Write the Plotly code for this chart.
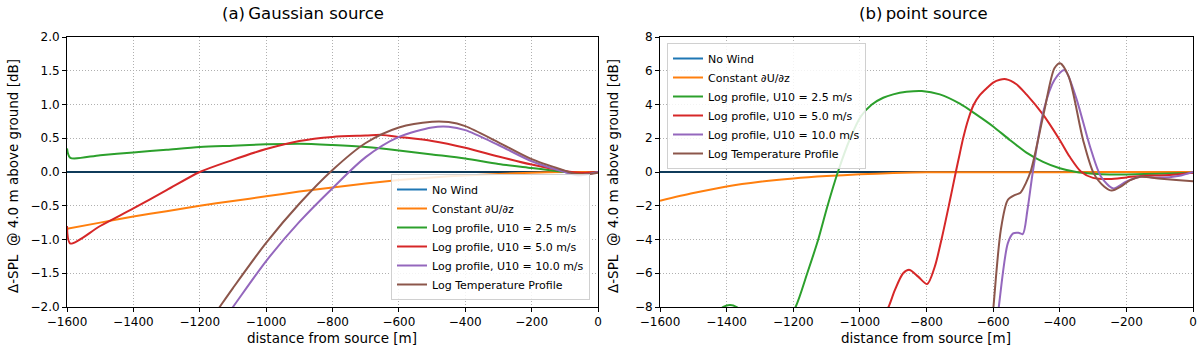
import plotly.graph_objects as go

# ---------------- (a) Gaussian source ----------------
ga_nowind_x = [-1600, 0]
ga_nowind_y = [0.0, 0.0]

ga_const_x = [-1600, -1500, -1400, -1300, -1200, -1100, -1000, -900, -800, -700, -600, -500, -400, -300, -200, -100, 0]
ga_const_y = [-0.84, -0.75, -0.66, -0.58, -0.50, -0.43, -0.36, -0.29, -0.23, -0.17, -0.12, -0.08, -0.05, -0.03, -0.01, 0.0, 0.0]

ga_u25_x = [-1600, -1590, -1500, -1400, -1300, -1200, -1100, -1000, -900, -800, -700, -600, -500, -400, -300, -200, -150, -100, -70, -40, 0]
ga_u25_y = [0.35, 0.21, 0.25, 0.29, 0.33, 0.37, 0.39, 0.41, 0.42, 0.40, 0.37, 0.32, 0.26, 0.20, 0.12, 0.06, 0.03, 0.0, -0.02, -0.02, 0.0]

ga_u50_x = [-1600, -1590, -1500, -1400, -1300, -1200, -1100, -1000, -900, -800, -700, -650, -600, -500, -400, -300, -200, -100, -50, 0]
ga_u50_y = [-0.80, -1.06, -0.80, -0.54, -0.27, 0.0, 0.18, 0.34, 0.46, 0.52, 0.54, 0.55, 0.52, 0.46, 0.36, 0.23, 0.11, 0.015, -0.01, 0.0]

ga_u100_x = [-1130, -1100, -1000, -900, -800, -700, -600, -500, -450, -400, -300, -200, -100, -60, 0]
ga_u100_y = [-2.2, -2.0, -1.32, -0.74, -0.24, 0.22, 0.52, 0.66, 0.67, 0.62, 0.40, 0.16, 0.0, -0.05, 0.0]

ga_temp_x = [-1160, -1140, -1100, -1000, -900, -800, -700, -600, -500, -450, -400, -300, -200, -100, -60, 0]
ga_temp_y = [-2.14, -2.0, -1.72, -1.05, -0.47, 0.03, 0.43, 0.66, 0.745, 0.74, 0.68, 0.44, 0.19, 0.02, -0.04, -0.01]

# ---------------- (b) point source ----------------
pt_nowind_x = [-1600, 0]
pt_nowind_y = [0.0, 0.0]

pt_const_x = [-1600, -1500, -1400, -1300, -1200, -1100, -1000, -900, -800, -600, -400, -200, 0]
pt_const_y = [-1.70, -1.25, -0.86, -0.58, -0.38, -0.24, -0.14, -0.06, -0.02, -0.01, -0.01, 0.0, 0.0]

pt_u25_x = [-1600, -1500, -1440, -1410, -1390, -1370, -1330, -1290, -1240, -1193, -1158, -1125, -1097, -1066, -1029, -997,
            -964, -930, -900, -860, -814, -760, -700, -650, -600, -550, -500, -450, -400, -350, -300, -250, -200, -100, 0]
pt_u25_y = [-14.0, -10.0, -8.5, -8.0, -7.88, -8.0, -8.8, -9.8, -9.5, -8.0, -6.0, -4.0, -2.0, 0.0, 2.0, 3.3,
            4.0, 4.4, 4.6, 4.75, 4.8, 4.6, 4.05, 3.4, 2.7, 1.9, 1.15, 0.6, 0.22, 0.0, -0.1, -0.15, -0.15, -0.1, -0.05]

pt_u50_x = [-1000, -950, -914, -895, -870, -851, -825, -798, -775, -755, -733, -712, -700, -690, -675, -658, -640, -620, -600,
            -580, -561, -530, -500, -450, -400, -370, -335, -300, -250, -200, -150, -100, -50, 0]
pt_u50_y = [-11.5, -9.4, -8.0, -7.0, -6.0, -5.8, -6.2, -6.64, -5.6, -4.0, -2.0, 0.0, 1.1, 2.0, 3.1, 4.0, 4.55, 4.95, 5.3,
            5.47, 5.5, 5.2, 4.6, 3.4, 1.9, 0.9, 0.0, -0.35, -0.42, -0.32, -0.22, -0.2, -0.15, -0.05]

pt_u100_x = [-610, -583, -556, -540, -524, -511, -497, -480, -448, -416, -386, -352, -309, -276, -239, -201, -158, -104, -40, 0]
pt_u100_y = [-13.0, -8.0, -4.23, -3.64, -3.6, -3.68, -2.25, 0.12, 3.68, 5.45, 6.05, 4.47, 1.5, -0.28, -0.97, -0.57, -0.28, -0.34, -0.22, 0.0]

pt_temp_x = [-620, -599, -577, -556, -534, -518, -502, -486, -448, -416, -399, -373, -330, -298, -266, -244, -217, -190, -158, -104, -50, 0]
pt_temp_y = [-13.0, -8.0, -3.44, -1.66, -1.36, -1.23, -0.67, 0.12, 3.48, 6.15, 6.45, 5.65, 1.9, -0.08, -0.87, -1.1, -0.87, -0.5, -0.28, -0.38, -0.47, -0.55]

names = ["No Wind", "Constant \u2202U/\u2202z", "Log profile, U10 = 2.5 m/s",
         "Log profile, U10 = 5.0 m/s", "Log profile, U10 = 10.0 m/s", "Log Temperature Profile"]
colors = ["#1f77b4", "#ff7f0e", "#2ca02c", "#d62728", "#9467bd", "#8c564b"]

x_ticks = [-1600, -1400, -1200, -1000, -800, -600, -400, -200, 0]
ya_ticks = [-2.0, -1.5, -1.0, -0.5, 0.0, 0.5, 1.0, 1.5, 2.0]
yb_ticks = [-8, -6, -4, -2, 0, 2, 4, 6, 8]

left_series = [(ga_nowind_x, ga_nowind_y), (ga_const_x, ga_const_y), (ga_u25_x, ga_u25_y),
               (ga_u50_x, ga_u50_y), (ga_u100_x, ga_u100_y), (ga_temp_x, ga_temp_y)]
right_series = [(pt_nowind_x, pt_nowind_y), (pt_const_x, pt_const_y), (pt_u25_x, pt_u25_y),
                (pt_u50_x, pt_u50_y), (pt_u100_x, pt_u100_y), (pt_temp_x, pt_temp_y)]

fig = go.Figure()

FONT = "DejaVu Sans"

def add_panel(series, xa, ya, legend):
    for i, ((xs, ys), nm, c) in enumerate(zip(series, names, colors)):
        fig.add_trace(go.Scatter(x=xs, y=ys, mode="lines", name=nm,
                                 line=dict(color=c, width=2, shape="spline", smoothing=0.8),
                                 xaxis=xa, yaxis=ya, legend=legend, hoverinfo="skip"))
        if i == 0:
            fig.add_trace(go.Scatter(x=[-1600, 0], y=[0, 0], mode="lines", showlegend=False,
                                     line=dict(color="black", width=1.2),
                                     xaxis=xa, yaxis=ya, hoverinfo="skip"))

add_panel(left_series, "x", "y", "legend")
add_panel(right_series, "x2", "y2", "legend2")

W, H = 1200, 352
def px_x(p):
    return p / W
def px_y(p):
    return 1 - p / H

axis_common = dict(showline=True, linecolor="black", linewidth=1, mirror=True,
                   ticks="outside", ticklen=4, tickcolor="black", tickwidth=1,
                   showgrid=True, gridcolor="#b0b0b0", griddash="1px,2px", gridwidth=1,
                   zeroline=False, automargin=False,
                   tickfont=dict(family=FONT, size=12, color="black"))

fig.update_layout(
    width=W, height=H,
    margin=dict(l=0, r=0, t=0, b=0, autoexpand=False),
    paper_bgcolor="white", plot_bgcolor="white",
    font=dict(family=FONT, color="black"),
    xaxis=dict(domain=[px_x(67), px_x(598)], range=[-1600, 0], tickvals=x_ticks, anchor="y", **axis_common),
    yaxis=dict(domain=[px_y(307), px_y(37)], range=[-2.0, 2.0], tickvals=ya_ticks, tickformat=".1f", anchor="x", **axis_common),
    xaxis2=dict(domain=[px_x(660), px_x(1193)], range=[-1600, 0], tickvals=x_ticks, anchor="y2", **axis_common),
    yaxis2=dict(domain=[px_y(307), px_y(37)], range=[-8, 8], tickvals=yb_ticks, anchor="x2", **axis_common),
    legend=dict(x=px_x(590), y=px_y(300), xanchor="right", yanchor="bottom",
                bgcolor="rgba(255,255,255,0.85)", bordercolor="#d0d0d0", borderwidth=1,
                font=dict(family=FONT, size=11), itemwidth=30, tracegroupgap=0),
    legend2=dict(x=px_x(667), y=px_y(43), xanchor="left", yanchor="top",
                 bgcolor="rgba(255,255,255,0.85)", bordercolor="#d0d0d0", borderwidth=1,
                 font=dict(family=FONT, size=11), itemwidth=30, tracegroupgap=0),
    showlegend=True,
)

annotations = [
    dict(text="(a)\u2009Gaussian source", x=px_x(303), y=px_y(13), xref="paper", yref="paper",
         showarrow=False, font=dict(family=FONT, size=16.5), xanchor="center", yanchor="middle"),
    dict(text="(b)\u2009point source", x=px_x(923), y=px_y(13), xref="paper", yref="paper",
         showarrow=False, font=dict(family=FONT, size=16.5), xanchor="center", yanchor="middle"),
    dict(text="distance from source [m]", x=px_x(332), y=px_y(338), xref="paper", yref="paper",
         showarrow=False, font=dict(family=FONT, size=13.5), xanchor="center", yanchor="middle"),
    dict(text="distance from source [m]", x=px_x(926), y=px_y(338), xref="paper", yref="paper",
         showarrow=False, font=dict(family=FONT, size=13.5), xanchor="center", yanchor="middle"),
    dict(text="\u0394-SPL  @ 4.0 m above ground [dB]", x=px_x(13), y=px_y(176), xref="paper", yref="paper",
         showarrow=False, font=dict(family=FONT, size=13.5), textangle=-90, xanchor="center", yanchor="middle"),
    dict(text="\u0394-SPL  @ 4.0 m above ground [dB]", x=px_x(613), y=px_y(176), xref="paper", yref="paper",
         showarrow=False, font=dict(family=FONT, size=13.5), textangle=-90, xanchor="center", yanchor="middle"),
]
fig.update_layout(annotations=annotations)

fig.write_html("out.html", config={"displayModeBar": False},
               post_script="document.body.style.margin='0';document.body.style.padding='0';document.body.style.overflow='hidden';")
